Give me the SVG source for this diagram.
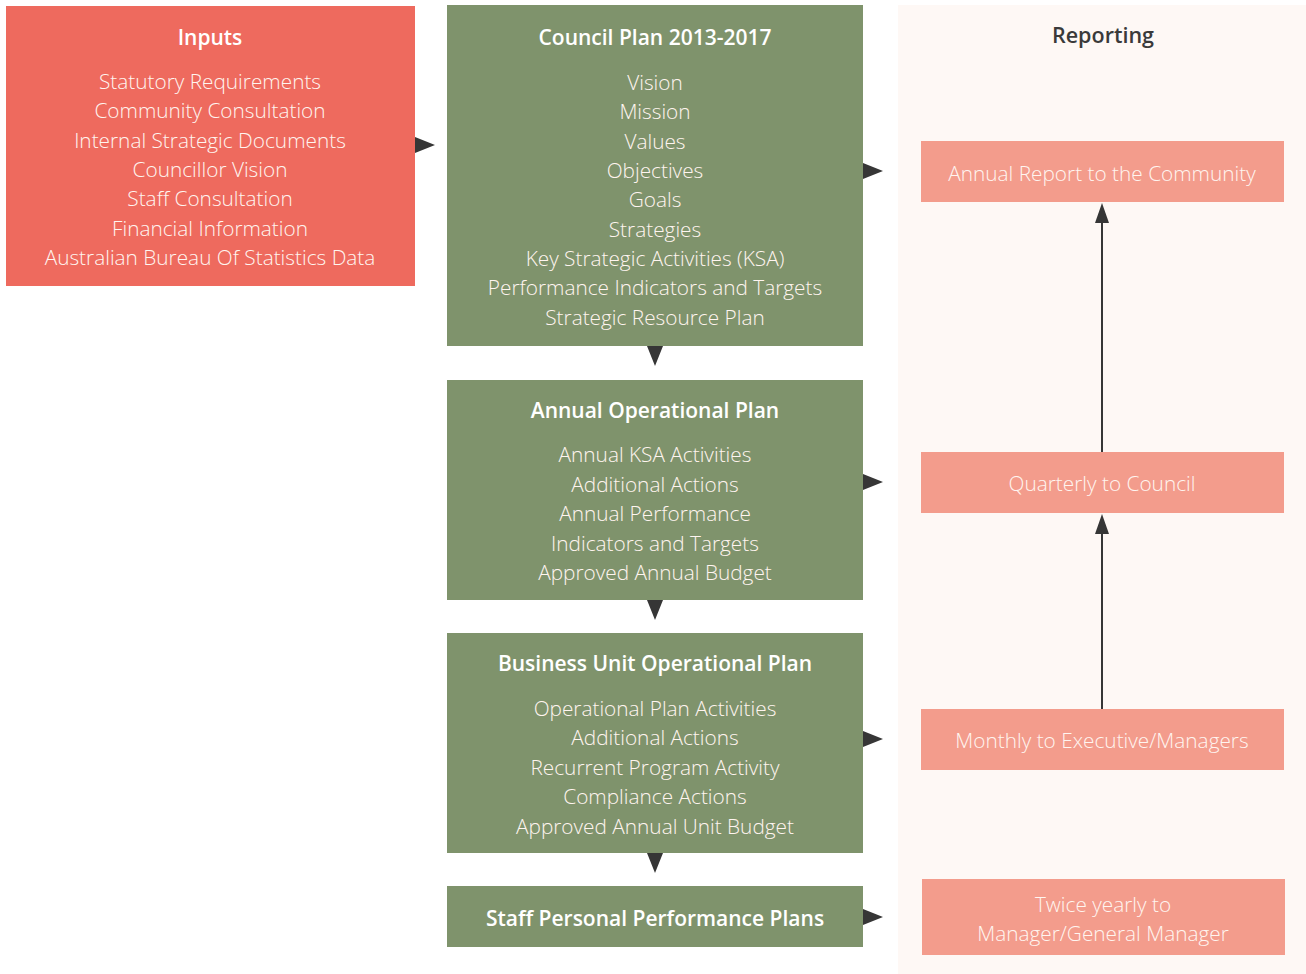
<svg xmlns="http://www.w3.org/2000/svg" width="1306" height="974" viewBox="0 0 1306 974">
<defs>
<style>
.t{font-family:"Open Sans","Liberation Sans",sans-serif;font-size:21px;font-weight:600;fill:#ffffff;text-anchor:middle}
.b{font-family:"Open Sans","Liberation Sans",sans-serif;font-size:20.8px;font-weight:300;fill:#fff5f0;text-anchor:middle}
.red{fill:#ee6a5e}
.grn{fill:#7f936c}
.rep{fill:#f39c8c}
.ah{fill:#363636}
</style>
</defs>
<rect width="1306" height="974" fill="#ffffff"/>
<rect x="898" y="5" width="408" height="969" fill="#fef8f5"/>
<g id="inputs">
<rect class="red" x="6" y="6" width="409" height="280"/>
<text class="t" x="210" y="45">Inputs</text>
<text class="b" x="210" y="89">Statutory Requirements</text>
<text class="b" x="210" y="118">Community Consultation</text>
<text class="b" x="210" y="148">Internal Strategic Documents</text>
<text class="b" x="210" y="177">Councillor Vision</text>
<text class="b" x="210" y="206">Staff Consultation</text>
<text class="b" x="210" y="236">Financial Information</text>
<text class="b" x="210" y="265">Australian Bureau Of Statistics Data</text>
</g>
<g id="council">
<rect class="grn" x="447" y="5" width="416" height="341"/>
<text class="t" x="655" y="45">Council Plan 2013-2017</text>
<text class="b" x="655" y="90">Vision</text>
<text class="b" x="655" y="119">Mission</text>
<text class="b" x="655" y="149">Values</text>
<text class="b" x="655" y="178">Objectives</text>
<text class="b" x="655" y="207">Goals</text>
<text class="b" x="655" y="237">Strategies</text>
<text class="b" x="655" y="266">Key Strategic Activities (KSA)</text>
<text class="b" x="655" y="295">Performance Indicators and Targets</text>
<text class="b" x="655" y="325">Strategic Resource Plan</text>
</g>
<g id="annual">
<rect class="grn" x="447" y="380" width="416" height="220"/>
<text class="t" x="655" y="418">Annual Operational Plan</text>
<text class="b" x="655" y="462">Annual KSA Activities</text>
<text class="b" x="655" y="492">Additional Actions</text>
<text class="b" x="655" y="521">Annual Performance</text>
<text class="b" x="655" y="551">Indicators and Targets</text>
<text class="b" x="655" y="580">Approved Annual Budget</text>
</g>
<g id="business">
<rect class="grn" x="447" y="633" width="416" height="220"/>
<text class="t" x="655" y="671">Business Unit Operational Plan</text>
<text class="b" x="655" y="716">Operational Plan Activities</text>
<text class="b" x="655" y="745">Additional Actions</text>
<text class="b" x="655" y="775">Recurrent Program Activity</text>
<text class="b" x="655" y="804">Compliance Actions</text>
<text class="b" x="655" y="834">Approved Annual Unit Budget</text>
</g>
<g id="staff">
<rect class="grn" x="447" y="886" width="416" height="61"/>
<text class="t" x="655" y="926">Staff Personal Performance Plans</text>
</g>
<g id="reporting-title">
<text class="t" x="1103" y="43" style="fill:#3a3a3a;font-size:21.5px">Reporting</text>
</g>
<g id="annual-report">
<rect class="rep" x="921" y="141" width="363" height="61"/>
<text class="b" x="1102" y="181">Annual Report to the Community</text>
</g>
<g id="quarterly">
<rect class="rep" x="921" y="452" width="363" height="61"/>
<text class="b" x="1102" y="491">Quarterly to Council</text>
</g>
<g id="monthly">
<rect class="rep" x="921" y="709" width="363" height="61"/>
<text class="b" x="1102" y="748">Monthly to Executive/Managers</text>
</g>
<g id="twice">
<rect class="rep" x="922" y="879" width="363" height="76"/>
<text class="b" x="1103" y="912">Twice yearly to</text>
<text class="b" x="1103" y="941">Manager/General Manager</text>
</g>
<g id="connectors">
<polygon class="ah" points="415,137 435,145 415,153"/>
<polygon class="ah" points="863,163 883,171 863,179"/>
<polygon class="ah" points="863,474 883,482 863,490"/>
<polygon class="ah" points="863,731 883,739 863,747"/>
<polygon class="ah" points="863,909 883,917 863,925"/>
<polygon class="ah" points="647,346 663,346 655,366"/>
<polygon class="ah" points="647,600 663,600 655,620"/>
<polygon class="ah" points="647,853 663,853 655,873"/>
<line x1="1102" y1="452" x2="1102" y2="220" stroke="#363636" stroke-width="2"/>
<polygon class="ah" points="1102,203 1109,223 1095,223"/>
<line x1="1102" y1="709" x2="1102" y2="530" stroke="#363636" stroke-width="2"/>
<polygon class="ah" points="1102,514 1109,534 1095,534"/>
</g>
</svg>
